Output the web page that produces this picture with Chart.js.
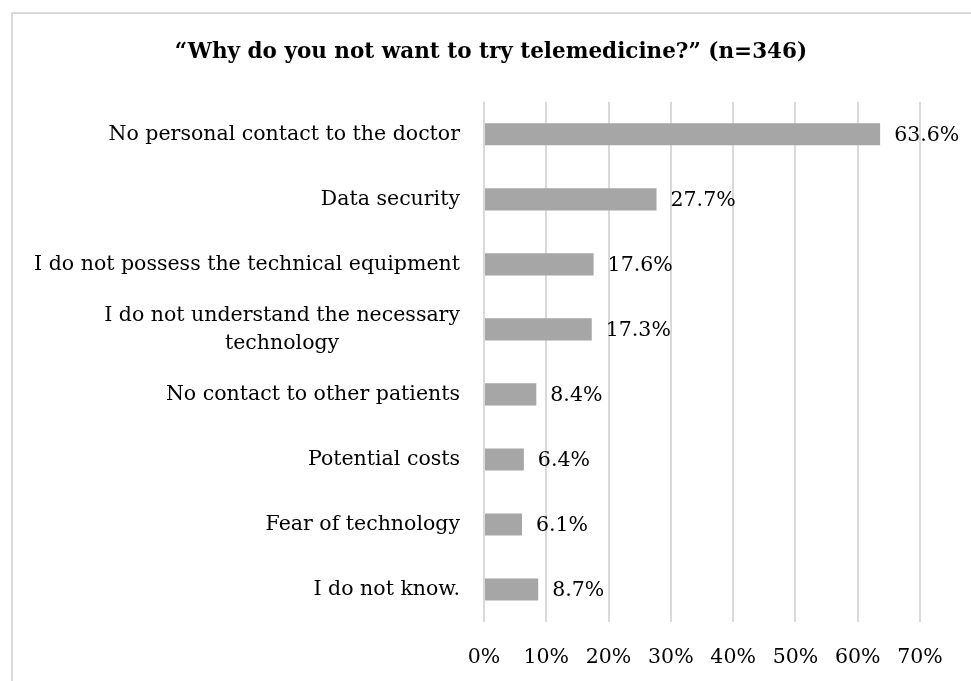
<!DOCTYPE html>
<html>
<head>
<meta charset="utf-8">
<title>Why do you not want to try telemedicine?</title>
<script src="https://cdn.jsdelivr.net/npm/chart.js@4.4.1/dist/chart.umd.min.js"></script>
<style>
    html, body { margin: 0; padding: 0; background: #fff; }
    .wrap { position: relative; width: 971px; height: 681px; overflow: hidden; }
    .frame {
        position: absolute; left: 11px; top: 12px;
        width: 1000px; height: 1000px;
        border: 2px solid #d9d9d9; box-sizing: border-box;
    }
    #chart { position: absolute; left: 0; top: 0; }
</style>
</head>
<body>
<div class="wrap">
    <div class="frame"></div>
    <canvas id="chart" width="971" height="681"></canvas>
</div>
<script>
    "use strict";

    // Survey answers (share of respondents, %)
    const reasons = [
        'No personal contact to the doctor',
        'Data security',
        'I do not possess the technical equipment',
        ['I do not understand the necessary', 'technology'],
        'No contact to other patients',
        'Potential costs',
        'Fear of technology',
        'I do not know.'
    ];
    const shares = [63.6, 27.7, 17.6, 17.3, 8.4, 6.4, 6.1, 8.7];
    const xTicks = [0, 10, 20, 30, 40, 50, 60, 70];

    const FONT = "'DejaVu Serif', 'Liberation Serif', serif";
    const LABEL_SIZE = 20.5;
    const PAD_LEFT = 62;

    // Category labels: block right-aligned, lines centered within the block
    const categoryLabels = {
        id: 'categoryLabels',
        afterDraw(chart) {
            const ctx = chart.ctx;
            const y = chart.scales.y;
            const right = chart.chartArea.left - 24;
            const lineH = 28;
            ctx.save();
            ctx.font = LABEL_SIZE + 'px ' + FONT;
            ctx.fillStyle = '#000';
            ctx.textBaseline = 'middle';
            ctx.textAlign = 'center';
            reasons.forEach((label, i) => {
                const lines = Array.isArray(label) ? label : [label];
                const w = Math.max(...lines.map(l => ctx.measureText(l).width));
                const cx = right - w / 2;
                const cy = y.getPixelForTick(i);
                const top = cy - (lines.length - 1) * lineH / 2;
                lines.forEach((l, k) => ctx.fillText(l, cx, top + k * lineH));
            });
            ctx.restore();
        }
    };

    // Value labels to the right of each bar
    const valueLabels = {
        id: 'valueLabels',
        afterDatasetsDraw(chart) {
            const ctx = chart.ctx;
            const meta = chart.getDatasetMeta(0);
            ctx.save();
            ctx.font = LABEL_SIZE + 'px ' + FONT;
            ctx.fillStyle = '#000';
            ctx.textBaseline = 'middle';
            ctx.textAlign = 'left';
            meta.data.forEach((bar, i) => {
                ctx.fillText(shares[i].toFixed(1) + '%', bar.x + 14, bar.y + 1);
            });
            ctx.restore();
        }
    };

    new Chart(document.getElementById('chart'), {
        type: 'bar',
        data: {
            labels: reasons,
            datasets: [{
                data: shares,
                backgroundColor: '#a6a6a6',
                borderWidth: 0,
                barPercentage: 0.34,
                categoryPercentage: 1
            }]
        },
        options: {
            indexAxis: 'y',
            responsive: false,
            animation: false,
            layout: { padding: { top: 0, right: 51, bottom: 11, left: PAD_LEFT } },
            plugins: {
                legend: { display: false },
                tooltip: { enabled: false },
                title: {
                    display: true,
                    text: '\u201CWhy do you not want to try telemedicine?\u201D (n=346)',
                    color: '#000',
                    font: { family: FONT, size: 21.5, weight: 'bold', lineHeight: 1.2 },
                    padding: { top: 40, bottom: 36 }
                }
            },
            scales: {
                x: {
                    min: 0,
                    max: 70,
                    afterBuildTicks(scale) {
                        scale.ticks = xTicks.map(v => ({ value: v }));
                    },
                    afterFit(scale) { scale.height = 48; },
                    grid: { color: '#d9d9d9', lineWidth: 2, drawTicks: false },
                    border: { display: false },
                    ticks: {
                        color: '#000',
                        padding: 23,
                        maxRotation: 0,
                        font: { family: FONT, size: LABEL_SIZE },
                        callback: v => v + '%'
                    }
                },
                y: {
                    afterFit(scale) { scale.width = 484 - PAD_LEFT; },
                    grid: { display: false, drawTicks: false },
                    border: { display: false },
                    ticks: {
                        color: 'transparent',
                        padding: 24,
                        font: { family: FONT, size: LABEL_SIZE }
                    }
                }
            }
        },
        plugins: [valueLabels, categoryLabels]
    });
</script>
</body>
</html>
